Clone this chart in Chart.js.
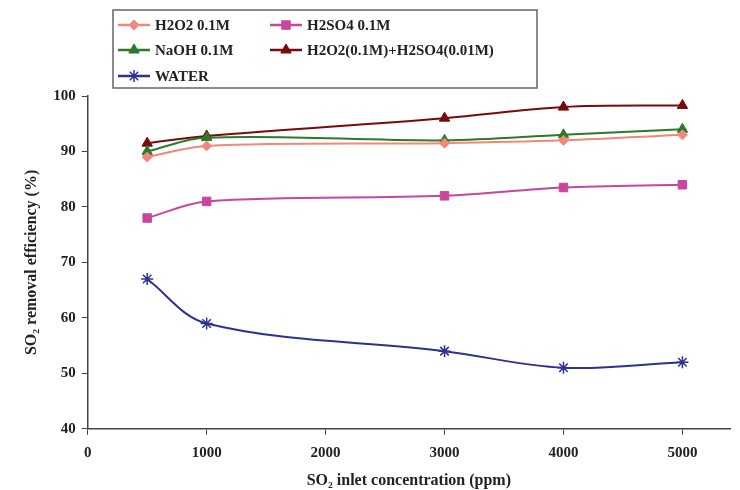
<!DOCTYPE html>
<html>
<head>
<meta charset="utf-8">
<script src="https://cdn.jsdelivr.net/npm/chart.js@4.4.0/dist/chart.umd.min.js"></script>
<style>
  body { margin: 0; background: #fff; }
  #wrap { width: 740px; height: 490px; }
</style>
</head>
<body>
<div id="wrap"><canvas id="so2Chart" width="740" height="490"></canvas></div>
<script>
// data
const concentration = [500, 1000, 3000, 4000, 5000];
const h2o2 = [89, 91, 91.5, 92, 93];
const h2so4 = [78, 81, 82, 83.5, 84];
const naoh = [90, 92.5, 92, 93, 94];
const mixed = [91.5, 92.8, 96, 98, 98.3];
const water = [67, 59, 54, 51, 52];
const seriesNames = ['H2O2 0.1M', 'H2SO4 0.1M', 'NaOH 0.1M', 'H2O2(0.1M)+H2SO4(0.01M)', 'WATER'];
const xTicks = [0, 1000, 2000, 3000, 4000, 5000];

const serif = "'Liberation Serif', 'DejaVu Serif', serif";

function pts(values) {
    return values.map(function(v, i) { return { x: concentration[i], y: v }; });
}

function makeSet(name, values, color, style, radius) {
    return {
        label: name,
        data: pts(values),
        borderColor: color,
        backgroundColor: color,
        borderWidth: 2,
        pointStyle: style,
        pointRadius: radius,
        pointBorderWidth: style === 'star' ? 1.5 : 1,
        tension: 0.35
    };
}

// legend drawn inside a box, two columns like the original
const boxLegend = {
    id: 'boxLegend',
    afterDraw: function(chart) {
        const ctx = chart.ctx;
        ctx.save();
        ctx.strokeStyle = '#666';
        ctx.lineWidth = 1.5;
        ctx.strokeRect(113, 10, 424, 78);
        const slots = [[118, 25], [270, 25], [118, 50], [270, 50], [118, 76]];
        chart.data.datasets.forEach(function(ds, i) {
            const x = slots[i][0], y = slots[i][1];
            ctx.strokeStyle = ds.borderColor;
            ctx.lineWidth = 2.5;
            ctx.beginPath();
            ctx.moveTo(x, y);
            ctx.lineTo(x + 32, y);
            ctx.stroke();
            ctx.fillStyle = ds.backgroundColor;
            ctx.lineWidth = ds.pointBorderWidth;
            Chart.helpers.drawPoint(ctx, { pointStyle: ds.pointStyle, radius: ds.pointRadius, rotation: 0, borderWidth: ds.pointBorderWidth }, x + 16, y);
            ctx.fillStyle = '#222';
            ctx.font = 'bold 15px ' + serif;
            ctx.textBaseline = 'middle';
            ctx.fillText(ds.label, x + 37, y + 1);
        });
        ctx.restore();
    }
};

const ctx = document.getElementById('so2Chart');
const so2Chart = new Chart(ctx, {
    type: 'line',
    data: {
        datasets: [
            makeSet(seriesNames[0], h2o2, '#F4877A', 'rectRot', 5),
            makeSet(seriesNames[1], h2so4, '#C9469C', 'rect', 6),
            makeSet(seriesNames[2], naoh, '#2B7A2B', 'triangle', 6),
            makeSet(seriesNames[3], mixed, '#780A0A', 'triangle', 6),
            makeSet(seriesNames[4], water, '#2E3192', 'star', 6)
        ]
    },
    options: {
        responsive: false,
        animation: false,
        layout: {
            padding: { top: 96, right: 10, left: 18, bottom: 0 }
        },
        scales: {
            x: {
                type: 'linear',
                min: 0,
                max: 5400,
                afterBuildTicks: function(axis) {
                    axis.ticks = xTicks.map(function(v) { return { value: v }; });
                },
                grid: { drawOnChartArea: false, color: '#444', tickLength: 6 },
                border: { color: '#444', width: 1.5 },
                ticks: {
                    color: '#222',
                    font: { family: serif, size: 15, weight: 'bold' },
                    padding: 9,
                    callback: function(value) { return String(value); }
                },
                title: { display: true, text: 'SO₂ inlet concentration (ppm)', color: '#222', font: { family: serif, size: 16, weight: 'bold' }, padding: { top: 0, bottom: 0 } }
            },
            y: {
                min: 40,
                max: 100,
                ticks: { stepSize: 10, color: '#222', font: { family: serif, size: 15, weight: 'bold' }, padding: 6 },
                grid: { drawOnChartArea: false, color: '#444', tickLength: 6 },
                border: { color: '#444', width: 1.5 },
                title: { display: true, text: 'SO₂ removal efficiency (%)', color: '#222', font: { family: serif, size: 16, weight: 'bold' }, padding: { bottom: 6 } }
            }
        },
        plugins: {
            legend: { display: false },
            tooltip: { enabled: false }
        }
    },
    plugins: [boxLegend]
});
</script>
</body>
</html>
